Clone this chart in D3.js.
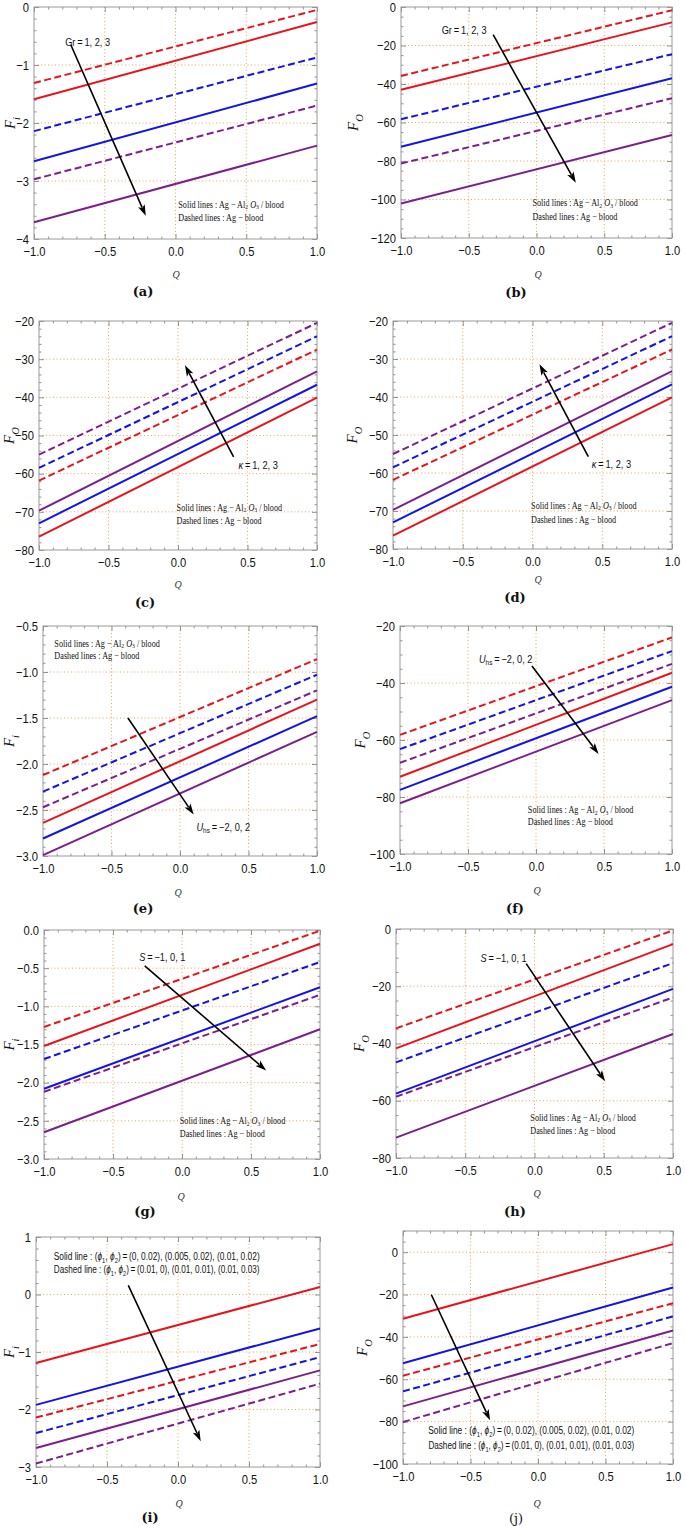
<!DOCTYPE html>
<html>
<head>
<meta charset="utf-8">
<script src="https://cdn.jsdelivr.net/npm/d3@7"></script>
<style>
  body { margin: 0; background: #fff; }
  svg { display: block; }
</style>
</head>
<body>
<div id="chart"></div>
<script>
// Ten small panels: F_i / F_O against Q for Ag-Al2O3/blood (solid) and Ag-blood (dashed)

// x axis, shared by all panels
const qDomain = [-1, 1];
const qAt = [-1, 1];              // each series is read at Q = -1 and Q = 1
const qTicks = [-1, -0.5, 0, 0.5, 1];

// series order in every panel: red, blue, purple
// (a) F_i, Gr = 1, 2, 3
const aSolid = [[-1.59, -0.26], [-2.66, -1.32], [-3.71, -2.39]];
const aDashed = [[-1.31, -0.05], [-2.14, -0.87], [-2.97, -1.70]];
const aYTicks = [-4, -3, -2, -1, 0];

// (b) F_O, Gr = 1, 2, 3
const bSolid = [[-43.0, -8.0], [-72.6, -37.0], [-102.1, -66.5]];
const bDashed = [[-35.8, -1.7], [-58.3, -24.5], [-81.3, -47.4]];
const bYTicks = [-120, -100, -80, -60, -40, -20, 0];

// (c) F_O, kappa = 1, 2, 3
const cSolid = [[-76.5, -40.1], [-73.0, -36.7], [-69.7, -33.2]];
const cDashed = [[-61.8, -27.5], [-58.5, -24.0], [-55.0, -20.5]];
const cYTicks = [-80, -70, -60, -50, -40, -30, -20];

// (d) F_O, kappa = 1, 2, 3
const dSolid = [[-76.5, -40.1], [-73.0, -36.7], [-69.7, -33.2]];
const dDashed = [[-61.8, -27.5], [-58.5, -24.0], [-55.0, -20.5]];
const dYTicks = [-80, -70, -60, -50, -40, -30, -20];

// (e) F_i, U_hs = -2, 0, 2
const eSolid = [[-2.64, -1.30], [-2.81, -1.48], [-2.99, -1.65]];
const eDashed = [[-2.12, -0.86], [-2.30, -1.03], [-2.47, -1.20]];
const eYTicks = [-3, -2.5, -2, -1.5, -1, -0.5];

// (f) F_O, U_hs = -2, 0, 2
const fSolid = [[-72.9, -36.4], [-77.5, -41.3], [-82.2, -46.0]];
const fDashed = [[-58.2, -24.0], [-63.2, -28.8], [-68.0, -33.3]];
const fYTicks = [-100, -80, -60, -40, -20];

// (g) F_i, S = -1, 0, 1
const gSolid = [[-1.52, -0.18], [-2.08, -0.75], [-2.65, -1.30]];
const gDashed = [[-1.27, -0.01], [-1.69, -0.42], [-2.12, -0.85]];
const gYTicks = [-3, -2.5, -2, -1.5, -1, -0.5, 0];

// (h) F_O, S = -1, 0, 1
const hSolid = [[-41.7, -5.3], [-57.5, -20.9], [-72.9, -36.7]];
const hDashed = [[-34.7, -0.5], [-46.6, -11.9], [-58.6, -23.9]];
const hYTicks = [-80, -60, -40, -20, 0];

// (i) F_i, (phi1, phi2)
const iSolid = [[-1.19, 0.13], [-1.92, -0.59], [-2.67, -1.32]];
const iDashed = [[-2.14, -0.86], [-2.41, -1.09], [-2.94, -1.55]];
const iYTicks = [-3, -2, -1, 0, 1];

// (j) F_O, (phi1, phi2)
const jSolid = [[-31.4, 3.8], [-52.4, -16.7], [-72.8, -37.0]];
const jDashed = [[-58.3, -24.1], [-65.7, -30.3], [-80.2, -42.9]];
const jYTicks = [-100, -80, -60, -40, -20, 0];

const colors = ['#e8141c', '#1414e6', '#7b1f8c'];
const gridColor = '#f0a552';
const frameColor = '#9a9a9a';
const sans = '"Liberation Sans", Arial, sans-serif';
const serif = '"Liberation Serif", "Times New Roman", serif';

const int = d3.format('d');
const dec1 = d3.format('.1f');

// rich-text pieces
const grNote = [{ t: 'Gr\u2009=\u20091, 2, 3' }];
const kappaNote = [{ t: 'κ', it: 1 }, { t: '\u2009=\u20091, 2, 3' }];
const uhsNote = [{ t: 'U', it: 1 }, { t: 'hs', sub: 1 }, { t: '\u2009=\u2009−2, 0, 2' }];
const sNote = [{ t: 'S', it: 1 }, { t: '\u2009=\u2009−1, 0, 1' }];
const solidLeg = [{ t: 'Solid lines : Ag − Al' }, { t: '2', sub: 1 }, { t: ' ' }, { t: 'O', it: 1 }, { t: '3', sub: 1 }, { t: ' / blood' }];
const dashedLeg = [{ t: 'Dashed lines : Ag − blood' }];
const phiSolid = [{ t: 'Solid line : (' }, { t: 'ϕ', it: 1 }, { t: '1', sub: 1 }, { t: ', ' }, { t: 'ϕ', it: 1 }, { t: '2', sub: 1 }, { t: ')\u2009=\u2009(0, 0.02), (0.005, 0.02), (0.01, 0.02)' }];
const phiDashed = [{ t: 'Dashed line : (' }, { t: 'ϕ', it: 1 }, { t: '1', sub: 1 }, { t: ', ' }, { t: 'ϕ', it: 1 }, { t: '2', sub: 1 }, { t: ')\u2009=\u2009(0.01, 0), (0.01, 0.01), (0.01, 0.03)' }];

const panels = [
  { cap: '(a)', solid: aSolid, dashed: aDashed, yTicks: aYTicks, yDomain: [-4, 0], minor: 0.2, fmt: int,
    box: [34, 7, 317, 239], sub: 'i', ylx: 15, capX: 143, capY: 292, qX: 176, qY: 276,
    arrow: [[-0.74, -0.65], [-0.21, -3.60]], note: grNote, noteAt: [-0.78, -0.61],
    leg: [solidLeg, dashedLeg], legAt: [0.02, -3.42, -3.65] },
  { cap: '(b)', solid: bSolid, dashed: bDashed, yTicks: bYTicks, yDomain: [-120, 0], minor: 5, fmt: int,
    box: [401, 7, 672, 238], sub: 'O', ylx: 358, capX: 516, capY: 293, qX: 538, qY: 276,
    arrow: [[-0.32, -14.4], [0.29, -91.3]], note: grNote, noteAt: [-0.70, -12.3],
    leg: [solidLeg, dashedLeg], legAt: [-0.03, -102.4, -109.4] },
  { cap: '(c)', solid: cSolid, dashed: cDashed, yTicks: cYTicks, yDomain: [-80, -20], minor: 2, fmt: int,
    box: [39, 321, 317, 550], sub: 'O', ylx: 14, capX: 145, capY: 603, qX: 178, qY: 586,
    arrow: [[0.40, -55.6], [0.05, -31.6]], note: kappaNote, noteAt: [0.435, -58],
    leg: [solidLeg, dashedLeg], legAt: [-0.01, -69.1, -72.6] },
  { cap: '(d)', solid: dSolid, dashed: dDashed, yTicks: dYTicks, yDomain: [-80, -20], minor: 2, fmt: int,
    box: [393, 321, 672, 549], sub: 'O', ylx: 357, capX: 515, capY: 598, qX: 538, qY: 581,
    arrow: [[0.40, -55.7], [0.05, -31.4]], note: kappaNote, noteAt: [0.425, -57.9],
    leg: [solidLeg, dashedLeg], legAt: [-0.01, -68.8, -72.5] },
  { cap: '(e)', solid: eSolid, dashed: eDashed, yTicks: eYTicks, yDomain: [-3, -0.5], minor: 0.1, fmt: dec1,
    box: [43, 626, 317, 856], sub: 'i', ylx: 14, capX: 143, capY: 909, qX: 178, qY: 894,
    arrow: [[-0.38, -1.50], [0.10, -2.55]], note: uhsNote, noteAt: [0.12, -2.69],
    leg: [solidLeg, dashedLeg], legAt: [-0.917, -0.70, -0.84] },
  { cap: '(f)', solid: fSolid, dashed: fDashed, yTicks: fYTicks, yDomain: [-100, -20], minor: 5, fmt: int,
    box: [400, 626, 672, 854], sub: 'O', ylx: 365, capX: 515, capY: 909, qX: 537, qY: 892,
    arrow: [[-0.03, -34.0], [0.46, -64.9]], note: uhsNote, noteAt: [-0.42, -31.7],
    leg: [solidLeg, dashedLeg], legAt: [-0.06, -84.8, -89.0] },
  { cap: '(g)', solid: gSolid, dashed: gDashed, yTicks: gYTicks, yDomain: [-3, 0], minor: 0.1, fmt: dec1,
    box: [44, 930, 320, 1159], sub: 'i', ylx: 14, capX: 145, capY: 1212, qX: 181, qY: 1198,
    arrow: [[-0.27, -0.47], [0.61, -1.84]], note: sNote, noteAt: [-0.31, -0.37],
    leg: [solidLeg, dashedLeg], legAt: [-0.016, -2.51, -2.68] },
  { cap: '(h)', solid: hSolid, dashed: hDashed, yTicks: hYTicks, yDomain: [-80, 0], minor: 5, fmt: int,
    box: [396, 929, 673, 1158], sub: 'O', ylx: 364, capX: 515, capY: 1212, qX: 537, qY: 1195,
    arrow: [[-0.06, -12.1], [0.51, -53.2]], note: sNote, noteAt: [-0.39, -10.5],
    leg: [solidLeg, dashedLeg], legAt: [-0.03, -66.2, -70.7] },
  { cap: '(i)', solid: iSolid, dashed: iDashed, yTicks: iYTicks, yDomain: [-3, 1], minor: 0.2, fmt: int,
    box: [36, 1237, 320, 1467], sub: 'i', ylx: 14, capX: 150, capY: 1518, qX: 179, qY: 1505,
    arrow: [[-0.35, 0.16], [0.16, -2.55]], note: null,
    leg: [phiSolid, phiDashed], legAt: [-0.15, 0.63, 0.41], legMid: true },
  { cap: '(j)', solid: jSolid, dashed: jDashed, yTicks: jYTicks, yDomain: [-100, 10], minor: 5, fmt: int,
    box: [403, 1231, 673, 1464], sub: 'O', ylx: 367, capX: 516, capY: 1519, qX: 537, qY: 1505, plainCap: true,
    arrow: [[-0.79, -20.1], [-0.355, -79.4]], note: null,
    leg: [phiSolid, phiDashed], legAt: [-0.05, -84.9, -92.0], legMid: true }
];

const svg = d3.select('#chart').append('svg').attr('width', 685).attr('height', 1526);

function steps(domain, step) {
  const n = Math.round((domain[1] - domain[0]) / step);
  return d3.range(n + 1).map(i => +(domain[0] + i * step).toFixed(6));
}

function rich(text, parts, size) {
  let down = false;
  parts.forEach(p => {
    const ts = text.append('tspan').text(p.t);
    if (p.it) ts.attr('font-style', 'italic');
    if (p.sub) {
      ts.attr('font-size', size * 0.7);
      if (!down) ts.attr('dy', size * 0.3);
      down = true;
    } else if (down) {
      ts.attr('dy', -size * 0.3);
      down = false;
    }
  });
}

// the original uses a condensed face; narrow the installed one with a horizontal scale
function narrow(text, px, py, f) {
  text.attr('x', 0).attr('y', 0).attr('transform', `translate(${px},${py}) scale(${f},1)`);
}

function styleAxis(g) {
  g.select('.domain').remove();
  g.selectAll('line').attr('stroke', '#777').attr('stroke-width', 0.8);
  g.selectAll('text').attr('fill', '#111').attr('font-family', sans).attr('font-size', 13)
    .each(function () {
      if (!this.textContent) return;
      const w = this.getComputedTextLength();
      d3.select(this).attr('textLength', w * 0.86).attr('lengthAdjust', 'spacingAndGlyphs');
    });
}

function drawPanel(p) {
  const [l, t, r, b] = p.box;
  const x = d3.scaleLinear().domain(qDomain).range([l, r]);
  const y = d3.scaleLinear().domain(p.yDomain).range([b, t]);
  const g = svg.append('g');

  // dotted orange grid at major ticks
  const inX = qTicks.filter(v => v > qDomain[0] && v < qDomain[1]);
  const inY = p.yTicks.filter(v => v > p.yDomain[0] && v < p.yDomain[1]);
  const grid = g.append('g').attr('stroke', gridColor).attr('stroke-width', 1).attr('stroke-dasharray', '1,2.5');
  grid.selectAll('.gx').data(inX).join('line')
    .attr('x1', d => x(d)).attr('x2', d => x(d)).attr('y1', t).attr('y2', b);
  grid.selectAll('.gy').data(inY).join('line')
    .attr('x1', l).attr('x2', r).attr('y1', d => y(d)).attr('y2', d => y(d));

  // frame ticks, all four sides, pointing inward
  const xMinor = steps(qDomain, 0.1).filter(v => !qTicks.some(m => Math.abs(m - v) < 1e-6));
  const yMinor = steps([Math.ceil(p.yDomain[0] / p.minor) * p.minor, p.yDomain[1]], p.minor)
    .filter(v => v >= p.yDomain[0] && v <= p.yDomain[1] && !p.yTicks.some(m => Math.abs(m - v) < 1e-6));

  g.append('g').attr('transform', `translate(0,${b})`)
    .call(d3.axisBottom(x).tickValues(qTicks).tickSize(-5).tickPadding(8).tickFormat(dec1)).call(styleAxis);
  g.append('g').attr('transform', `translate(0,${b})`)
    .call(d3.axisBottom(x).tickValues(xMinor).tickSize(-2.5).tickFormat('')).call(styleAxis);
  g.append('g').attr('transform', `translate(0,${t})`)
    .call(d3.axisTop(x).tickValues(qTicks).tickSize(-5).tickFormat('')).call(styleAxis);
  g.append('g').attr('transform', `translate(0,${t})`)
    .call(d3.axisTop(x).tickValues(xMinor).tickSize(-2.5).tickFormat('')).call(styleAxis);
  g.append('g').attr('transform', `translate(${l},0)`)
    .call(d3.axisLeft(y).tickValues(p.yTicks).tickSize(-5).tickPadding(5).tickFormat(p.fmt)).call(styleAxis);
  g.append('g').attr('transform', `translate(${l},0)`)
    .call(d3.axisLeft(y).tickValues(yMinor).tickSize(-2.5).tickFormat('')).call(styleAxis);
  g.append('g').attr('transform', `translate(${r},0)`)
    .call(d3.axisRight(y).tickValues(p.yTicks).tickSize(-5).tickFormat('')).call(styleAxis);
  g.append('g').attr('transform', `translate(${r},0)`)
    .call(d3.axisRight(y).tickValues(yMinor).tickSize(-2.5).tickFormat('')).call(styleAxis);

  g.append('rect').attr('x', l).attr('y', t).attr('width', r - l).attr('height', b - t)
    .attr('fill', 'none').attr('stroke', frameColor).attr('stroke-width', 1);

  // curves
  const line = d3.line().x((d, i) => x(qAt[i])).y(d => y(d));
  const curves = g.append('g').attr('fill', 'none').attr('stroke-width', 2);
  curves.selectAll('.dash').data(p.dashed).join('path')
    .attr('d', line).attr('stroke', (d, i) => colors[i]).attr('stroke-dasharray', '7,3.5');
  curves.selectAll('.solid').data(p.solid).join('path')
    .attr('d', line).attr('stroke', (d, i) => colors[i]);

  // arrow
  const x0 = x(p.arrow[0][0]), y0 = y(p.arrow[0][1]);
  const x1 = x(p.arrow[1][0]), y1 = y(p.arrow[1][1]);
  const len = Math.hypot(x1 - x0, y1 - y0);
  const ux = (x1 - x0) / len, uy = (y1 - y0) / len;
  const hl = 11, hw = 3.6;
  const bx = x1 - ux * hl, by = y1 - uy * hl;
  g.append('line').attr('x1', x0).attr('y1', y0).attr('x2', bx + ux * 2).attr('y2', by + uy * 2)
    .attr('stroke', '#000').attr('stroke-width', 1.6);
  g.append('path')
    .attr('d', `M${x1},${y1}L${bx - uy * hw},${by + ux * hw}L${bx + ux * 2.5},${by + uy * 2.5}L${bx + uy * hw},${by - ux * hw}Z`)
    .attr('fill', '#000');

  // parameter note
  if (p.note) {
    const tx = g.append('text').attr('dominant-baseline', 'middle')
      .attr('font-family', sans).attr('font-size', 11).attr('fill', '#111');
    rich(tx, p.note, 11);
    narrow(tx, x(p.noteAt[0]), y(p.noteAt[1]), 0.84);
  }

  // legend text
  const legSize = p.legMid ? 10 : 9.5;
  p.leg.forEach((parts, k) => {
    const tx = g.append('text').attr('dominant-baseline', 'middle').attr('fill', '#111')
      .attr('font-family', p.legMid ? sans : serif).attr('font-size', legSize)
      .attr('text-anchor', p.legMid ? 'middle' : 'start');
    rich(tx, parts, legSize);
    const f = p.legMid ? 206 / tx.node().getComputedTextLength() : 0.86;
    narrow(tx, x(p.legAt[0]), y(p.legAt[k + 1]), f);
  });

  // y label
  const yl = g.append('text').attr('transform', `translate(${p.ylx},${(t + b) / 2}) rotate(-90)`)
    .attr('text-anchor', 'middle').attr('font-family', serif).attr('font-size', 15).attr('fill', '#111');
  rich(yl, [{ t: 'F', it: 1 }, { t: p.sub, it: 1, sub: 1 }], 15);

  // x label and caption
  g.append('text').attr('x', p.qX).attr('y', p.qY).attr('text-anchor', 'middle').attr('dominant-baseline', 'middle')
    .attr('font-family', serif).attr('font-style', 'italic').attr('font-size', 10).attr('fill', '#333').text('Q');
  g.append('text').attr('x', p.capX).attr('y', p.capY).attr('text-anchor', 'middle').attr('dominant-baseline', 'middle')
    .attr('font-family', '"DejaVu Serif", serif').attr('font-weight', p.plainCap ? 'normal' : 'bold')
    .attr('font-size', 13).attr('fill', '#111').text(p.cap);
}

panels.forEach(drawPanel);
</script>
</body>
</html>
